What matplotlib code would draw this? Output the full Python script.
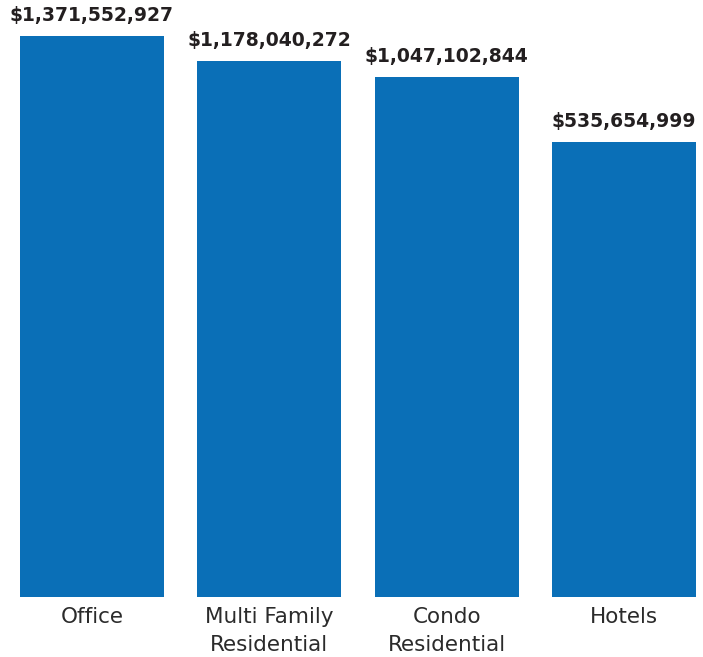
import matplotlib
matplotlib.use("Agg")
import matplotlib.pyplot as plt

categories = ["Office", "Multi Family\nResidential", "Condo\nResidential", "Hotels"]
values = [1371552927, 1178040272, 1047102844, 535654999]
labels = ["$1,371,552,927", "$1,178,040,272", "$1,047,102,844", "$535,654,999"]

ymin, ymax = -3.063e9, 1.658e9

fig = plt.figure(figsize=(7.03, 6.57), dpi=100)
ax = fig.add_axes([0, 60 / 657, 1, 597 / 657])

x = list(range(len(categories)))
ax.bar(x, [v - ymin for v in values], bottom=ymin, width=0.812, color="#0a6fb7")
ax.set_xlim(-92 / 177.33, (703 - 92) / 177.33)
ax.set_ylim(ymin, ymax)

for xi, v, lab in zip(x, values, labels):
    ax.annotate(lab, (xi, v), xytext=(0, 8), textcoords="offset points",
                ha="center", va="bottom", fontsize=13.5, fontweight="bold",
                color="#231f20")

ax.set_xticks(x)
ax.set_xticklabels(categories, fontsize=15.5, color="#2b2b2b", linespacing=1.5)
ax.tick_params(axis="x", length=0, pad=7)
ax.set_yticks([])
for s in ax.spines.values():
    s.set_visible(False)
ax.patch.set_alpha(0)

fig.savefig("out.png", dpi=100)
